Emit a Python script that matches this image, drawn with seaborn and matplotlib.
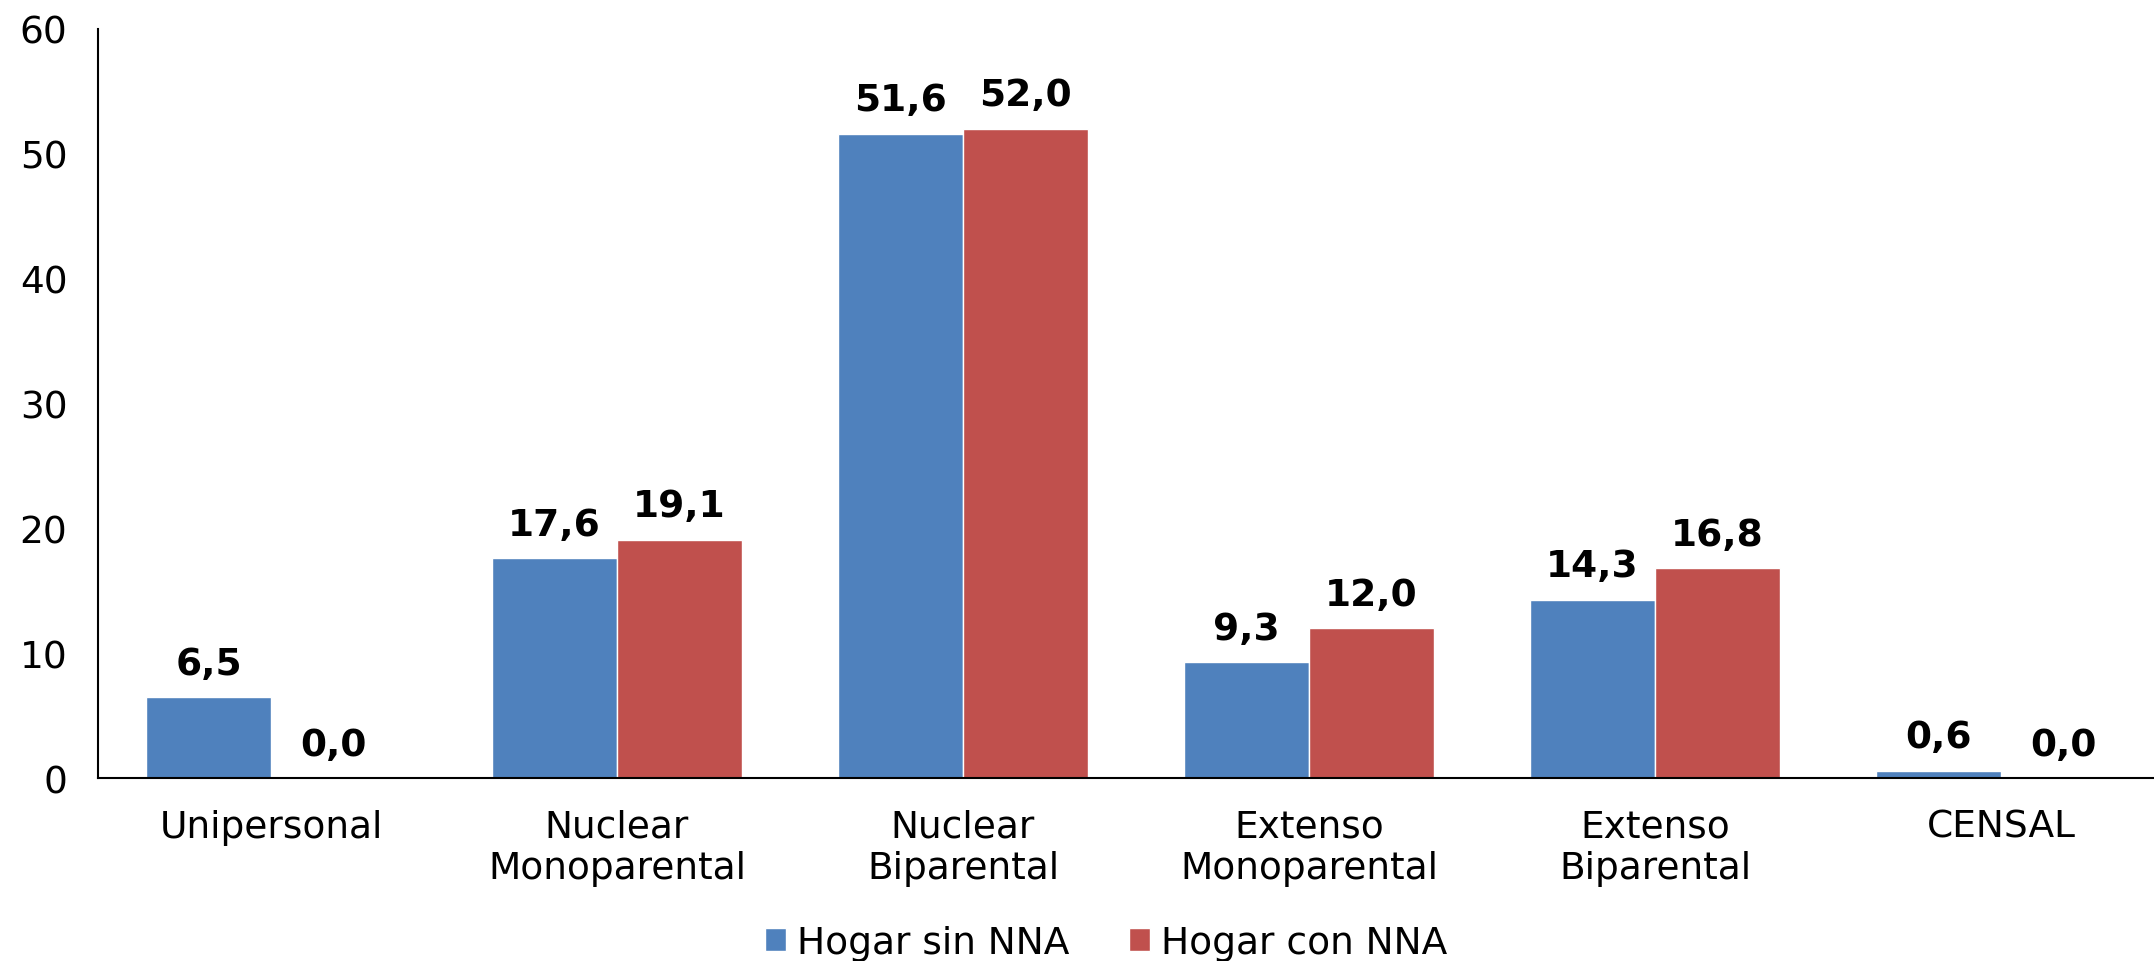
# Import libraries
import pandas as pd
import matplotlib.pyplot as plt
import seaborn as sns

# Data
categorias = ["Unipersonal", "Nuclear\nMonoparental", "Nuclear\nBiparental",
              "Extenso\nMonoparental", "Extenso\nBiparental", "CENSAL"]
sin_nna = [6.5, 17.6, 51.6, 9.3, 14.3, 0.6]
con_nna = [0.0, 19.1, 52.0, 12.0, 16.8, 0.0]
series = ["Hogar sin NNA", "Hogar con NNA"]
colores = ["#4F81BD", "#C0504D"]

df = pd.DataFrame({
    "Tipo": categorias * 2,
    "Valor": sin_nna + con_nna,
    "Serie": [series[0]] * len(categorias) + [series[1]] * len(categorias),
})

sns.set_style("white")
plt.rcParams["font.family"] = ["DejaVu Sans"]
plt.rcParams["text.color"] = "black"
plt.rcParams["xtick.color"] = "black"
plt.rcParams["ytick.color"] = "black"

fig = plt.figure(figsize=(21.54, 9.62), dpi=100)
ax = fig.add_axes([0.0455, 0.190, 0.9638, 0.779])

sns.barplot(data=df, x="Tipo", y="Valor", hue="Serie", palette=colores,
            width=0.722, saturation=1, ax=ax, legend=True)

# Value labels
for cont in ax.containers:
    labels = [f"{b.get_height():.1f}".replace(".", ",") for b in cont]
    ax.bar_label(cont, labels=labels, padding=11, fontsize=27,
                 fontweight="bold", color="black")

ax.set_ylim(0, 60)
ax.set_xlim(-0.5, 5.5)
ax.set_yticks(range(0, 61, 10))
ax.tick_params(axis="y", labelsize=27, length=0, pad=22, labelcolor="black")
ax.tick_params(axis="x", labelsize=27, length=0, pad=22, labelcolor="black")
ax.set_xlabel("")
ax.set_ylabel("")

for s in ["top", "right"]:
    ax.spines[s].set_visible(False)
for s in ["left", "bottom"]:
    ax.spines[s].set_color("#000000")
    ax.spines[s].set_linewidth(1.5)

ax.legend(loc="center", bbox_to_anchor=(0.5136, 0.019), bbox_transform=fig.transFigure,
          ncol=2, frameon=False, fontsize=27, handlelength=0.55, handleheight=0.55,
          handletextpad=0.3, columnspacing=1.6, borderpad=0, labelcolor="black")

plt.savefig("out.png", dpi=100)
